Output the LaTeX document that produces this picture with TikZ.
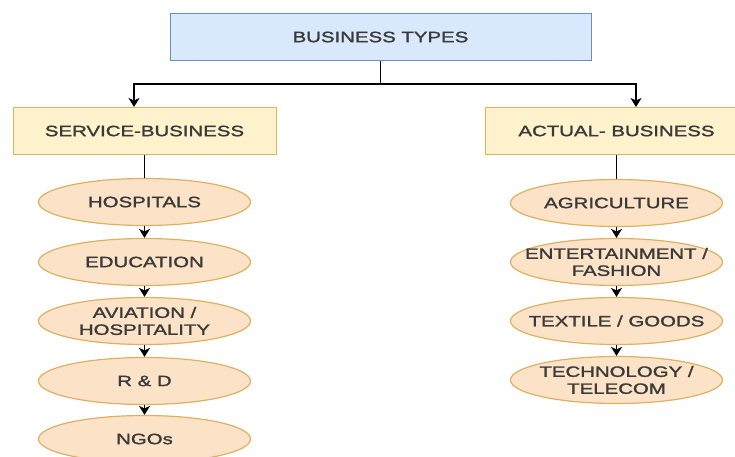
\documentclass[tikz,border=0pt]{standalone}
\usepackage{fontspec}
\setmainfont{Liberation Sans}[FakeStretch=1.36,FakeBold=1.6]
\usetikzlibrary{shapes.geometric,arrows.meta}
\definecolor{bluefill}{HTML}{DAE8FC}
\definecolor{blueline}{HTML}{6C8EBF}
\definecolor{yelfill}{HTML}{FFF2CC}
\definecolor{yelline}{HTML}{D6B656}
\definecolor{orfill}{HTML}{FCE3C7}
\definecolor{orline}{HTML}{DDB062}
\definecolor{txt}{HTML}{3A3A3A}
\tikzset{
  lbl/.style={text=txt,font=\fontsize{15}{17}\selectfont,align=center,inner sep=0pt},
  topbox/.style={lbl,draw=blueline,fill=bluefill,line width=1pt,minimum width=421pt,minimum height=47pt},
  catbox/.style={lbl,draw=yelline,fill=yelfill,line width=1pt,minimum width=263pt,minimum height=47pt},
  itembox/.style={lbl,ellipse,draw=orline,fill=orfill,line width=1.2pt,inner xsep=-70pt,inner ysep=-12pt,minimum width=212pt,minimum height=47pt},
  conn/.style={line width=1.4pt,black},
  arr/.style={conn,-{Stealth[length=9pt,width=11pt,inset=2.5pt]}}
}
\begin{document}
\begin{tikzpicture}[x=1pt,y=-1pt]
\useasboundingbox (0,0) rectangle (735,457);
\fill[white] (0,0) rectangle (735,457);
\clip (0,0) rectangle (735,457);
\node[topbox] (top) at (380.5,37) {BUSINESS TYPES};
\node[catbox] (svc) at (144.5,131) {SERVICE-BUSINESS};
\node[catbox] (act) at (616.5,131) {ACTUAL- BUSINESS};
\coordinate (j) at (380.5,84);
\draw[arr] (top.south) -- (j) -| ([xshift=-10.5pt]svc.north);
\draw[arr] (j) -| ([xshift=19.5pt]act.north);

\node[itembox] (s1) at (144.5,202) {HOSPITALS};
\node[itembox] (s2) at (144.5,262) {EDUCATION};
\node[itembox] (s3) at (144.5,321) {AVIATION /\\HOSPITALITY};
\node[itembox] (s4) at (144.5,381) {R \& D};
\node[itembox] (s5) at (144.5,439) {NGOs};

\node[itembox] (a1) at (616.5,203) {AGRICULTURE};
\node[itembox] (a2) at (616.5,262) {ENTERTAINMENT /\\FASHION};
\node[itembox] (a3) at (616.5,321) {TEXTILE / GOODS};
\node[itembox] (a4) at (616.5,380) {TECHNOLOGY /\\TELECOM};

\draw[conn] (svc.south) -- (s1.north);
\draw[conn] (act.south) -- (a1.north);
\draw[arr] (s1.south) -- (s2.north);
\draw[arr] (s2.south) -- (s3.north);
\draw[arr] (s3.south) -- (s4.north);
\draw[arr] (s4.south) -- (s5.north);
\draw[arr] (a1.south) -- (a2.north);
\draw[arr] (a2.south) -- (a3.north);
\draw[arr] (a3.south) -- (a4.north);
\end{tikzpicture}
\end{document}
